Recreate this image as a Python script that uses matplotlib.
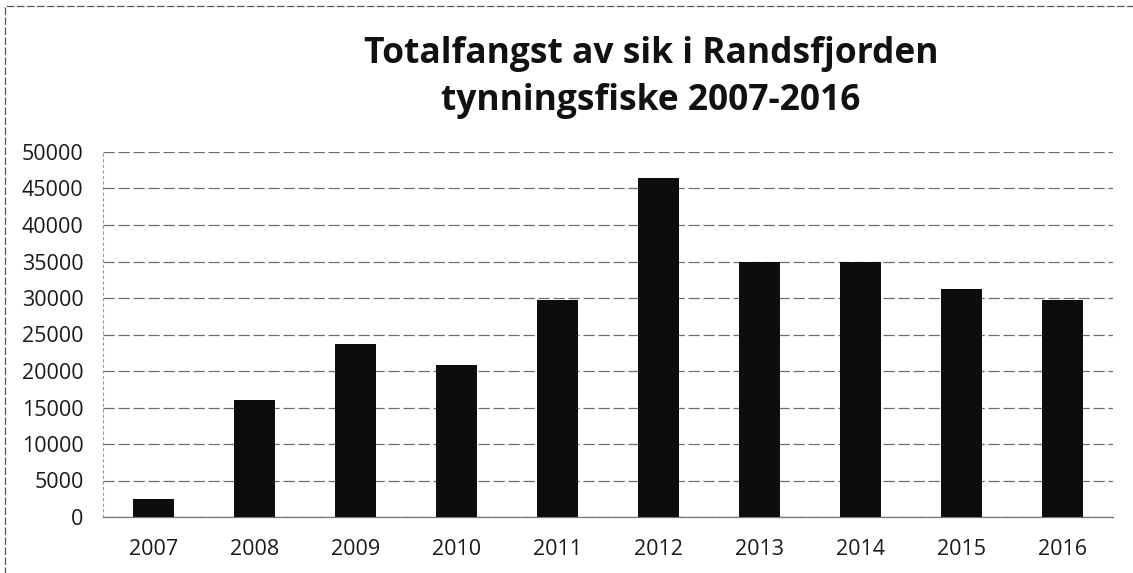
import matplotlib
matplotlib.use("Agg")
import matplotlib.pyplot as plt
from matplotlib.patches import Rectangle

# data
years = ["2007", "2008", "2009", "2010", "2011", "2012", "2013", "2014", "2015", "2016"]
catch = [2500, 16050, 23750, 20800, 29700, 46400, 34900, 35000, 31200, 29700]
yticks = [0, 5000, 10000, 15000, 20000, 25000, 30000, 35000, 40000, 45000, 50000]
title_lines = ["Totalfangst av sik i Randsfjorden", "tynningsfiske 2007-2016"]

plt.rcParams['font.family'] = ['Open Sans', 'DejaVu Sans']

fig = plt.figure(figsize=(11.33, 5.73), dpi=100)
ax = fig.add_axes([103 / 1133, 1 - 517 / 573, 1010 / 1133, 365 / 573])

x = range(len(years))
ax.bar(x, catch, width=0.4, color="#0d0d0d", zorder=3)

ax.set_xlim(-0.5, len(years) - 0.5)
ax.set_ylim(0, 50000)
ax.set_xticks(list(x))
ax.set_xticklabels(years)
ax.set_yticks(yticks)
ax.set_yticklabels([str(v) for v in yticks])
ax.tick_params(axis="y", length=0, pad=14, labelsize=15.5, colors="#1a1a1a")
ax.tick_params(axis="x", length=0, pad=16, labelsize=15.5, colors="#1a1a1a")

ax.grid(axis="y", color="#6e6e6e", linewidth=0.9, linestyle=(0, (9, 3)), zorder=0)
for s in ["top", "right"]:
    ax.spines[s].set_visible(False)
ax.spines["left"].set_color("#9a9a9a")
ax.spines["left"].set_linestyle((0, (2, 3)))
ax.spines["left"].set_linewidth(0.8)
ax.spines["bottom"].set_color("#777777")
ax.spines["bottom"].set_linewidth(0.9)

# two title lines, placed by baseline
for line, base in zip(title_lines, [63, 110]):
    fig.text(651 / 1133, 1 - base / 573, line, ha="center", va="baseline",
             fontsize=25.5, fontweight="bold", color="#111111")

# thin outer chart border (top and left visible in the scan)
fig.patches.append(Rectangle((5 / 1133, -0.01), 1.1, 1 - 6 / 573 + 0.01,
                             transform=fig.transFigure, fill=False,
                             edgecolor="#555555", linewidth=0.9, linestyle=(0, (6, 2))))

fig.savefig("out.png", dpi=100)
